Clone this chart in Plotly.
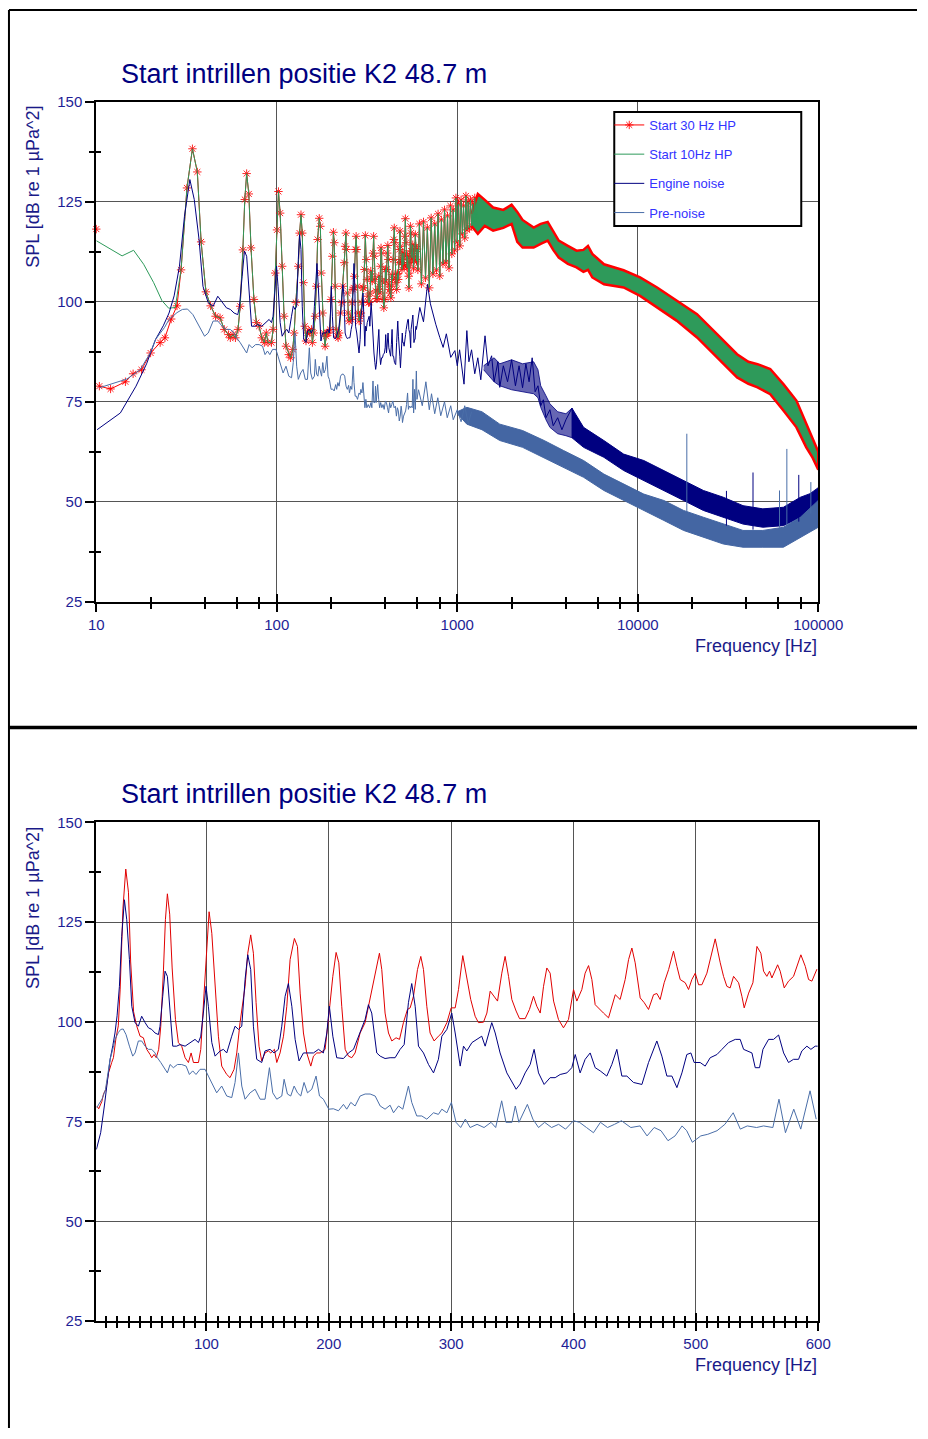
import plotly.graph_objects as go

# ---------------- DATA ----------------
# Start 30 Hz HP (shared low-frequency part, 10-600 Hz)
red_f = [10.4, 12.0, 14.5, 16.0, 17.8, 20.0, 22.6, 24.0, 26.0, 28.0, 29.5, 31.8, 34.1, 36.3, 38.1, 40.5, 43.0,
         45.8, 48.5, 51.2, 54.0, 55.3, 57.2, 59.0, 61.0, 62.7, 64.9, 66.5, 68.1, 70.0, 72.0, 74.7, 77.1, 79.8, 82.6,
         85.3, 87.5, 89.4, 93.5, 95.4, 98.1, 100.3, 102.2, 104.4, 107.1, 109.8, 112.5, 116.6, 119.3, 122.6, 124.8,
         127.5, 131.6, 133.8, 136.2, 138.4, 140.6, 143.0, 145.2, 147.9, 150.7, 152.6, 155.6, 157.5, 160.2, 163.0,
         165.7, 168.4, 171.9, 174.4, 176.6, 179.3, 182.0, 185.3, 187.5, 190.2, 193.0, 197.0, 199.7, 203.3, 206.0,
         208.2, 210.6, 213.4, 216.1, 218.8, 221.5, 225.6, 229.7, 232.4, 236.5, 239.2, 241.4, 243.3, 246.0, 248.8,
         251.5, 255.0, 257.8, 261.0, 264.3, 266.5, 269.2, 272.5, 275.2, 277.4, 280.1, 282.8, 286.1, 289.6, 292.4,
         296.5, 300.0, 303.3, 306.0, 309.5, 312.8, 316.0, 319.6, 322.3, 326.4, 329.2, 331.9, 335.1, 337.9, 341.4,
         344.1, 346.9, 349.6, 353.1, 355.9, 360.5, 364.0, 367.3, 370.0, 372.8, 375.5, 378.2, 380.9, 383.7, 387.7,
         391.8, 395.9, 400.0, 402.7, 406.8, 409.5, 412.3, 415.0, 417.7, 421.3, 424.5, 428.6, 431.3, 434.1, 438.1,
         442.2, 445.0, 447.7, 450.4, 454.5, 457.8, 461.3, 465.4, 468.1, 470.8, 474.1, 477.7, 481.7, 484.5, 487.2,
         491.3, 494.0, 496.7, 499.5, 502.2, 504.9, 509.0, 512.3, 515.8, 519.9, 522.6, 525.3, 528.0, 530.8, 534.9,
         537.6, 539.5, 543.1, 546.6, 549.9, 553.1, 555.3, 558.0, 560.2, 562.1, 566.8, 568.9, 572.2, 575.7, 579.8,
         585.8, 589.4, 592.1, 594.8, 598.9]
red_v = [78.9, 78.2, 80.0, 82.0, 83.0, 87.2, 89.8, 91.0, 95.7, 99.0, 108.0, 128.5, 138.3, 132.5, 115.0, 102.5, 99.0,
         96.4, 96.0, 93.1, 91.8, 91.0, 91.8, 91.0, 93.1, 98.9, 113.0, 125.6, 132.1, 127.0, 113.5, 100.6, 94.8, 93.9, 91.0,
         89.8, 92.2, 89.8, 89.8, 93.1, 107.2, 118.0, 127.6, 122.2, 108.9, 96.4, 88.9, 86.8, 86.0, 88.1, 92.2,
         99.8, 108.9, 117.2, 121.8, 117.2, 104.8, 93.9, 90.2, 92.2, 92.7, 92.2, 93.1, 89.8, 92.2, 96.4,
         103.9, 115.6, 120.9, 118.9, 107.2, 97.2, 92.2, 88.9, 91.4, 92.2, 92.2, 93.1, 100.6, 111.4, 117.4,
         114.8, 103.9, 93.1, 91.4, 91.0, 92.2, 97.2, 99.8, 103.9, 109.8, 113.9, 117.2, 113.1, 102.2, 97.2,
         95.2, 96.0, 95.6, 99.8, 103.1, 103.5, 106.4, 113.1, 116.4, 113.1, 103.9, 97.2, 95.2, 96.4, 97.2,
         99.8, 103.5, 103.5, 108.1, 116.6, 110.6, 105.6, 101.4, 99.8, 99.9, 102.2, 107.7, 106.4, 105.2, 112.2,
         116.4, 111.4, 105.6, 102.7, 100.8, 100.8, 103.1, 106.4, 103.9, 102.2, 108.9, 113.5, 112.2, 105.2, 100.6,
         98.5, 100.6, 108.1, 105.2, 108.1, 112.2, 114.1, 110.6, 104.3, 103.1, 102.2, 101.0, 103.9, 106.8, 105.6,
         110.6, 115.6, 118.5, 114.8, 106.0, 104.8, 103.1, 106.8, 107.1, 105.6, 109.8, 113.1, 117.7, 113.9, 110.6,
         109.8, 108.1, 110.6, 112.2, 109.3, 109.3, 112.2, 116.4, 120.8, 114.8, 111.4, 108.9, 108.5, 111.4, 109.8,
         106.4, 103.5, 107.2, 109.8, 118.9, 117.2, 112.7, 111.4, 112.7, 111.0, 114.3, 112.7, 108.5, 110.2, 111.4,
         116.8, 113.9, 110.6, 110.2, 113.2]
# first bin of the 30 Hz HP curve (only a marker is visible, on the y axis)
red_edge_f = [10.0]
red_edge_v = [118.2]

# Start 30 Hz HP, harmonic spikes above 600 Hz (top chart only)
red_hi_f = [605, 617, 633, 650, 667, 683, 700, 717, 733, 750, 767, 783, 800, 817, 833, 850, 867, 883, 900, 917, 933,
            950, 967, 983, 1000, 1017, 1033, 1050, 1067, 1083, 1100, 1117, 1133, 1150, 1167, 1183, 1200, 1217, 1233,
            1250, 1267, 1283, 1300]
red_hi_v = [108.0, 119.5, 104.5, 120.0, 106.0, 118.5, 103.5, 121.0, 107.0, 119.5, 108.0, 122.0, 106.5, 120.5, 109.5,
            123.0, 110.0, 121.5, 108.5, 124.0, 112.0, 123.0, 113.0, 126.0, 115.0, 124.5, 114.0, 125.5, 117.0, 124.0,
            116.0, 126.5, 118.0, 125.0, 118.5, 125.5, 119.0, 124.5, 119.5, 126.0, 120.0, 124.5, 120.5]

# Start 10Hz HP below 28 Hz (above that it coincides with the 30 Hz HP curve)
green_low_f = [10.0, 13.9, 16.1, 18.3, 20.8, 23.1, 25.2, 27.4]
green_low_v = [115.3, 111.5, 112.9, 109.4, 104.8, 100.3, 98.4, 98.6]

# Dense high-frequency band of both "Start" curves (upper / lower envelope)
band_f = [1200, 1300, 1420, 1580, 1800, 2000, 2150, 2300, 2650, 2900, 3170, 3400, 3650, 4100, 4580, 5000, 5300,
          5600, 6500, 8350, 10300, 12800, 16400, 21300, 27500, 35500, 41000, 46100, 54200, 64100, 75700, 85800,
          93000, 100000]
start_up = [122.0, 127.0, 125.5, 123.6, 123.0, 124.3, 122.5, 120.5, 118.6, 119.5, 120.0, 117.5, 115.3, 114.0, 112.8,
            113.0, 114.0, 112.0, 109.4, 107.9, 106.1, 103.6, 100.3, 96.9, 91.9, 86.9, 85.0, 84.4, 83.2, 79.4, 75.3,
            69.4, 66.0, 62.5]
start_lo = [119.0, 117.0, 119.0, 117.8, 118.5, 119.5, 115.0, 113.6, 113.6, 114.5, 115.3, 113.0, 111.1, 109.5, 108.6,
            107.5, 108.0, 106.1, 104.4, 103.6, 101.5, 98.6, 95.3, 91.1, 86.1, 81.1, 79.5, 78.6, 76.9, 72.8, 68.6,
            63.6, 61.0, 58.0]

# Engine noise
navy_f = [10.1, 13.6, 16.6, 19.0, 21.3, 23.5, 25.3, 27.0, 28.9, 30.8, 33.0, 34.9, 37.1, 39.0, 41.7, 44.4, 47.1, 49.9,
          52.6, 55.3, 58.0, 60.8, 62.1, 64.3, 66.2, 68.1, 70.3, 72.5, 75.7, 78.5, 82.6, 86.6, 90.7, 93.5, 95.4, 97.5,
          99.7, 101.6, 104.4, 107.1, 111.2, 113.9, 116.6, 120.7, 123.4, 126.2, 128.9, 131.6, 133.8, 136.2, 138.4,
          141.1, 145.2, 147.9, 152.0, 155.3, 158.8, 161.6, 164.3, 167.0, 169.8, 172.5, 175.7, 179.3, 182.0, 184.7,
          187.5, 191.6, 195.6, 198.4, 200.5, 203.3, 206.5, 212.0, 216.1, 220.2, 225.6, 229.7, 232.4, 235.1, 239.2,
          242.0, 246.0, 250.1, 254.2, 258.3, 261.6, 265.1, 267.8, 270.6, 273.3, 277.4, 281.5, 285.6, 289.6, 292.4,
          296.5, 300.5, 303.3, 307.4, 310.1, 312.8, 317.0, 321.0, 325.0, 327.8, 330.5, 333.2, 336.0, 340.0, 345.5,
          349.6, 353.1, 356.4, 360.5, 364.6, 367.8, 371.4, 376.0, 380.9, 385.0, 389.1, 394.6, 398.6, 401.4, 405.4,
          409.5, 413.6, 417.7, 421.8, 427.2, 431.3, 435.4, 439.5, 443.6, 449.0, 455.9, 461.3, 468.1, 472.2, 476.3,
          480.4, 484.5, 488.6, 492.6, 495.9, 498.6, 503.5, 507.6, 511.7, 517.2, 521.3, 526.7, 532.2, 536.2, 539.0,
          545.8, 548.5, 552.0, 554.8, 559.4, 563.5, 567.6, 571.7, 575.7, 579.8, 583.9, 586.6, 590.7, 594.0, 597.5,
          599.5]
navy_v = [68.0, 72.2, 78.9, 84.5, 90.6, 94.0, 97.2, 101.5, 108.9, 121.4, 130.6, 125.6, 115.6, 103.9, 99.8, 98.9, 101.4,
          99.8, 98.5, 98.1, 97.2, 96.8, 98.9, 106.4, 112.7, 111.4, 102.2, 93.9, 93.9, 94.3, 93.9, 94.8, 95.6, 94.8, 96.4,
          102.2, 108.9, 103.9, 94.8, 91.4, 92.7, 93.1, 92.2, 96.4, 98.9, 98.1, 98.9, 110.6, 116.8, 113.1, 98.9,
          90.6, 89.8, 92.7, 93.1, 92.2, 93.1, 98.9, 106.4, 109.6, 103.9, 95.6, 90.2, 92.2, 92.2, 92.2,
          92.2, 93.1, 92.2, 97.2, 103.9, 96.4, 91.0, 90.8, 92.2, 93.1, 97.2, 100.6, 104.3, 102.2, 92.2,
          91.4, 90.8, 91.0, 91.0, 93.1, 94.3, 104.8, 109.6, 103.9, 93.9, 92.2, 89.3, 87.2, 90.6, 96.4,
          98.1, 102.2, 97.2, 88.9, 93.9, 92.7, 94.8, 95.6, 96.4, 93.9, 97.2, 99.8, 97.2, 92.2, 87.2,
          84.8, 83.1, 84.4, 87.2, 89.3, 93.1, 87.2, 84.3, 86.0, 86.0, 86.8, 87.2, 88.5, 91.8, 87.2,
          90.6, 92.2, 88.5, 87.7, 86.4, 89.3, 93.1, 86.4, 86.4, 84.8, 84.3, 89.8, 95.2, 91.4, 86.4,
          86.4, 83.5, 87.2, 91.8, 92.2, 89.8, 89.8, 88.9, 91.0, 91.8, 93.1, 94.8, 95.6, 95.6, 93.1,
          92.2, 88.5, 88.5, 93.1, 95.6, 95.6, 96.7, 92.2, 89.8, 90.6, 90.6, 92.7, 93.9, 93.1, 93.9,
          93.9]
navy_hi_f = [620, 650, 684, 710, 740, 760, 800, 835, 870, 920, 970, 1000, 1030, 1060, 1090, 1130, 1160, 1200, 1250,
             1300, 1350, 1425, 1480, 1550, 1600, 1680, 1720, 1800, 1900, 2000, 2100, 2200, 2300, 2400, 2500, 2600,
             2700, 2800, 2900, 3000, 3100, 3260, 3400, 3600, 3800, 4000, 4320, 4500]
navy_hi_v = [98.6, 95.0, 104.4, 99.5, 96.0, 94.4, 91.1, 88.6, 92.0, 86.1, 87.8, 84.0, 88.0, 83.6, 79.4, 92.8, 85.0,
             88.0, 82.0, 86.0, 80.5, 91.5, 84.0, 86.5, 80.0, 85.0, 78.6, 84.0, 80.0, 85.5, 79.0, 84.0, 78.5, 84.5,
             80.0, 86.0, 77.5, 79.0, 74.0, 75.5, 71.0, 73.0, 69.0, 71.0, 68.0, 70.5, 73.4, 68.0]
navy_band_f = [1400, 1600, 1720, 2000, 2300, 2650, 2800, 2900, 3100, 3260, 3600, 4000, 4320, 5010, 6490, 8350, 10800,
               13950, 17950, 23100, 29800, 38300, 49300, 64100, 79600, 90000, 100000]
navy_up = [84.0, 86.0, 84.5, 85.5, 84.5, 85.0, 83.0, 79.0, 76.5, 74.5, 72.5, 72.0, 73.4, 68.6, 65.3, 61.9, 60.3, 57.8,
           55.3, 52.8, 51.1, 49.0, 48.2, 48.6, 51.1, 52.0, 53.5]
navy_lo = [83.0, 80.0, 79.0, 78.0, 77.5, 77.0, 76.0, 73.6, 70.5, 68.6, 67.0, 66.5, 66.0, 63.6, 61.1, 57.8, 55.3, 52.8,
           50.3, 47.8, 46.1, 44.4, 43.6, 44.0, 46.1, 47.0, 47.0]
NAVY_SPARSE_END = 4320  # below this frequency the engine-noise band is visibly less dense

# Pre-noise
pre_f = [10.4, 14.8, 17.5, 19.9, 21.3, 23.9, 25.3, 28.0, 30.0, 32.0, 34.3, 37.1, 39.8, 41.7, 44.4, 47.1, 49.9, 52.6,
         55.3, 58.0, 59.9, 62.7, 65.4, 68.1, 70.3, 73.0, 76.3, 79.8, 83.4, 86.1, 88.8, 91.5, 94.8, 98.9, 101.6, 105.7,
         108.4, 112.5, 116.6, 120.7, 123.4, 126.2, 128.9, 131.6, 135.7, 139.8, 143.9, 147.9, 151.5, 154.2, 157.5,
         161.6, 163.5, 166.2, 168.9, 171.7, 174.4, 177.1, 179.8, 182.6, 186.1, 189.6, 192.4, 195.6, 200.0, 203.8,
         207.9, 212.0, 214.7, 218.0, 221.5, 225.6, 229.7, 233.8, 237.9, 242.0, 246.0, 250.1, 252.9, 257.0, 260.5,
         265.1, 267.8, 271.9, 276.0, 280.1, 285.6, 289.6, 292.4, 296.5, 300.2, 304.0, 307.8, 311.6, 315.5, 321.2,
         326.9, 332.6, 336.4, 341.3, 344.8, 349.7, 352.4, 355.4, 362.3, 366.8, 371.4, 376.4, 382.1, 387.8, 393.5,
         400.0, 404.9, 410.6, 416.3, 422.0, 427.8, 433.5, 439.2, 446.8, 454.4, 460.1, 465.9, 471.5, 477.2, 483.0,
         488.7, 492.5, 497.1, 504.0, 509.7, 517.3, 523.7, 530.5, 536.3, 542.0, 549.6, 555.3, 562.9, 567.9, 573.2,
         580.0, 585.7, 593.3, 598.3]
pre_v = [78.5, 80.7, 83.0, 87.2, 90.6, 93.6, 95.6, 97.3, 98.1, 98.2, 96.8, 93.9, 91.4, 92.2, 95.2, 95.2, 93.9, 93.1,
         93.1, 92.2, 91.0, 89.8, 88.5, 87.2, 89.3, 88.5, 89.3, 89.3, 88.9, 86.8, 87.7, 86.8, 88.1, 88.1, 86.4, 83.9,
         82.2, 83.9, 81.4, 81.0, 84.8, 92.2, 83.9, 80.6, 82.2, 83.1, 80.6, 80.6, 88.5, 82.2, 80.6,
         81.4, 85.6, 81.9, 81.4, 83.9, 82.2, 81.4, 84.8, 82.2, 83.1, 86.4, 81.4, 80.6, 78.1, 78.2,
         77.7, 79.3, 78.1, 79.8, 78.9, 81.4, 81.9, 81.9, 81.4, 78.9, 78.1, 79.1, 77.2, 78.9, 78.1,
         83.9, 79.8, 76.4, 76.4, 75.6, 77.2, 76.8, 78.1, 77.2, 79.8, 74.8, 73.5, 75.6, 73.5, 74.3,
         73.5, 74.8, 73.5, 80.2, 74.8, 74.8, 78.9, 74.8, 79.3, 75.6, 73.5, 74.8, 73.5, 74.3, 73.1,
         75.2, 74.8, 73.5, 72.2, 74.8, 73.5, 74.3, 75.2, 73.5, 73.9, 71.4, 73.5, 72.7, 70.2, 71.4,
         73.9, 72.7, 69.8, 71.4, 71.8, 72.7, 74.3, 77.2, 73.1, 73.9, 73.5, 73.9, 73.5, 80.6, 72.2,
         78.1, 73.1, 82.7, 75.6]
pre_hi_f = [610, 640, 670, 700, 720, 750, 780, 810, 850, 880, 920, 950, 1000, 1050, 1100, 1150, 1200]
pre_hi_v = [78.0, 74.0, 80.0, 73.0, 77.0, 72.0, 76.0, 71.5, 75.0, 71.0, 74.0, 70.5, 73.0, 70.0, 74.0, 69.5, 72.5]
pre_band_f = [1000, 1130, 1370, 1720, 2300, 3030, 3880, 5010, 6490, 8350, 10800, 13950, 17950, 23100, 29800, 38300,
              49300, 64100, 79600, 100000]
pre_up = [72.5, 73.6, 72.5, 69.4, 67.8, 65.3, 62.8, 60.3, 56.9, 54.4, 51.9, 50.3, 47.8, 46.1, 44.4, 42.8, 42.8, 43.6,
          46.1, 50.3]
pre_lo = [72.0, 69.4, 68.0, 65.3, 63.6, 61.1, 58.6, 56.1, 52.8, 50.3, 47.8, 45.3, 42.8, 41.1, 39.4, 38.6, 38.6, 38.6,
          41.1, 43.6]

# Isolated narrow spikes at high frequency
spike_f = [18700, 31000, 43500, 61000, 67000, 78000, 91000]
spike_top = [67.0, 52.7, 57.3, 52.8, 63.2, 56.7, 54.9]
spike_base = [47.5, 44.0, 43.0, 43.5, 43.5, 45.0, 47.0]
spike_is_pre = [True, False, False, True, True, False, True]

# Axis ticks
top_xticks = [10, 100, 1000, 10000, 100000]
top_xminor = [20, 40, 60, 80, 200, 400, 600, 800, 2000, 4000, 6000, 8000, 20000, 40000, 60000, 80000]
y_ticks = [25, 50, 75, 100, 125, 150]
y_minor = [37.5, 62.5, 87.5, 112.5, 137.5]
bot_xticks = [100, 200, 300, 400, 500, 600]
bot_xminor = [round(k * 100 / 11, 3) for k in range(2, 66) if k % 11 != 0]

TITLE = "Start intrillen positie K2 48.7 m"
YTITLE = "SPL [dB re 1 µPa^2]"
XTITLE = "Frequency [Hz]"

# ---------------- STYLE / PAGE GEOMETRY ----------------
FONT = "Liberation Sans, Arial, sans-serif"
RED = "#ff0000"
GREEN = "#2e9a5a"
NAVY = "#000080"
PRE = "#4a6ea8"
TICKC = "#1e1e96"
# The captured page shows a slightly larger area than 928x1439 and the body keeps an 8 px
# margin; positions below are given in target-image pixels and converted to paper units.
SX, SY = 0.965, 0.989
OFF = 8
W, H = 942, 1436


def px(xr):
    return (xr / SX - OFF) / W


def py(yr):
    return 1 - (yr / SY - OFF) / H


def band_xy(fs, up, lo):
    return list(fs) + list(fs)[::-1], list(up) + list(lo)[::-1]


fig = go.Figure()

mk = dict(symbol="asterisk-open", size=7, color="rgba(255,0,0,0.85)", line=dict(width=1, color="rgba(255,0,0,0.85)"))

# ---- top chart (log) ----
fig.add_trace(go.Scatter(x=red_f + red_hi_f, y=red_v + red_hi_v, mode="lines+markers", name="Start 30 Hz HP",
                         legendgroup="a", line=dict(color=RED, width=1), cliponaxis=False, marker=mk,
                         xaxis="x", yaxis="y"))
fig.add_trace(go.Scatter(x=red_edge_f, y=red_edge_v, mode="markers", legendgroup="a", showlegend=False,
                         cliponaxis=False, hoverinfo="skip", marker=mk, xaxis="x", yaxis="y"))
bx, by = band_xy(band_f, start_up, start_lo)
fig.add_trace(go.Scatter(x=bx, y=by, mode="lines", fill="toself", fillcolor=GREEN, line=dict(color=RED, width=2.5),
                         showlegend=False, hoverinfo="skip", xaxis="x", yaxis="y"))
green_f = green_low_f + [f for f in red_f if f > 28] + red_hi_f
green_v = green_low_v + [v for f, v in zip(red_f, red_v) if f > 28] + red_hi_v
fig.add_trace(go.Scatter(x=green_f, y=green_v, mode="lines", name="Start 10Hz HP", legendgroup="b",
                         line=dict(color=GREEN, width=1), xaxis="x", yaxis="y"))
# engine-noise band: sparse (semi-filled) part and dense part
sp = [i for i, f in enumerate(navy_band_f) if f <= NAVY_SPARSE_END]
dn = [i for i, f in enumerate(navy_band_f) if f >= NAVY_SPARSE_END]
bx, by = band_xy([navy_band_f[i] for i in sp], [navy_up[i] for i in sp], [navy_lo[i] for i in sp])
fig.add_trace(go.Scatter(x=bx, y=by, mode="lines", fill="toself", fillcolor="rgba(0,0,128,0.6)",
                         line=dict(color="rgba(0,0,128,0.8)", width=1), showlegend=False, hoverinfo="skip",
                         xaxis="x", yaxis="y"))
bx, by = band_xy([navy_band_f[i] for i in dn], [navy_up[i] for i in dn], [navy_lo[i] for i in dn])
fig.add_trace(go.Scatter(x=bx, y=by, mode="lines", fill="toself", fillcolor=NAVY, line=dict(color=NAVY, width=1),
                         showlegend=False, hoverinfo="skip", xaxis="x", yaxis="y"))
fig.add_trace(go.Scatter(x=navy_f + navy_hi_f, y=navy_v + navy_hi_v, mode="lines", name="Engine noise",
                         legendgroup="c", line=dict(color=NAVY, width=1), xaxis="x", yaxis="y"))
bx, by = band_xy(pre_band_f, pre_up, pre_lo)
fig.add_trace(go.Scatter(x=bx, y=by, mode="lines", fill="toself", fillcolor="#4466a3",
                         line=dict(color="#4466a3", width=1), showlegend=False, hoverinfo="skip",
                         xaxis="x", yaxis="y"))
fig.add_trace(go.Scatter(x=pre_f + pre_hi_f, y=pre_v + pre_hi_v, mode="lines", name="Pre-noise",
                         legendgroup="d", line=dict(color=PRE, width=1), xaxis="x", yaxis="y"))
for is_pre in (False, True):
    sx, sy = [], []
    for f, t, b, p in zip(spike_f, spike_top, spike_base, spike_is_pre):
        if p == is_pre:
            sx += [f, f, None]
            sy += [b, t, None]
    fig.add_trace(go.Scatter(x=sx, y=sy, mode="lines", line=dict(color=PRE if is_pre else NAVY, width=1),
                             showlegend=False, hoverinfo="skip", xaxis="x", yaxis="y"))

# ---- bottom chart (linear) ----
fig.add_trace(go.Scatter(x=red_f, y=red_v, mode="lines", line=dict(color="#e00000", width=1),
                         showlegend=False, xaxis="x2", yaxis="y2"))
fig.add_trace(go.Scatter(x=navy_f, y=navy_v, mode="lines", line=dict(color=NAVY, width=1), showlegend=False,
                         xaxis="x2", yaxis="y2"))
fig.add_trace(go.Scatter(x=pre_f, y=pre_v, mode="lines", line=dict(color=PRE, width=1), showlegend=False,
                         xaxis="x2", yaxis="y2"))

# helper traces so that the overlay (inside-tick) axes get drawn
for xa, ya in (("x3", "y"), ("x", "y3"), ("x4", "y2"), ("x2", "y4")):
    fig.add_trace(go.Scatter(x=[None], y=[None], mode="lines", showlegend=False, hoverinfo="skip",
                             xaxis=xa, yaxis=ya))

tickfont = dict(family=FONT, size=15, color=TICKC)
xdom = [px(96), px(818)]
common_axis = dict(showline=True, linecolor="black", linewidth=2, mirror=True, zeroline=False,
                   showgrid=True, gridcolor="#555555", gridwidth=1, tickcolor="black", tickwidth=1.5,
                   tickfont=tickfont)
overlay_axis = dict(showline=False, showgrid=False, zeroline=False, showticklabels=False,
                    tickcolor="black", tickwidth=1.5, ticks="inside")
minor_out = dict(ticks="outside", ticklen=5, tickcolor="black", tickwidth=1.5, showgrid=False)
minor_in = dict(ticks="inside", ticklen=5, tickcolor="black", tickwidth=1.5)

fig.update_layout(
    width=W, height=H, autosize=False, margin=dict(l=0, r=0, t=0, b=0),
    paper_bgcolor="white", plot_bgcolor="white",
    font=dict(family=FONT),
    xaxis=dict(domain=xdom, anchor="y", type="log", range=[1, 5], tickvals=top_xticks,
               ticktext=[str(t) for t in top_xticks], ticks="outside", ticklen=8,
               minor=dict(tickvals=top_xminor, **minor_out), **common_axis),
    yaxis=dict(domain=[py(601), py(101)], anchor="x", range=[25, 150], tickvals=y_ticks, ticks="outside",
               ticklen=9, minor=dict(tickvals=y_minor, **minor_out), **common_axis),
    xaxis3=dict(overlaying="x", anchor="y", side="bottom", type="log", range=[1, 5], tickvals=top_xticks,
                ticklen=8, minor=dict(tickvals=top_xminor, **minor_in), **overlay_axis),
    yaxis3=dict(overlaying="y", anchor="x", side="left", range=[25, 150], tickvals=y_minor, ticklen=5,
                **overlay_axis),
    xaxis2=dict(domain=xdom, anchor="y2", range=[10, 600], tickvals=bot_xticks, ticks="outside", ticklen=8,
                minor=dict(tickvals=bot_xminor, **minor_out), **common_axis),
    yaxis2=dict(domain=[py(1321), py(822)], anchor="x2", range=[25, 150], tickvals=y_ticks, ticks="outside",
                ticklen=9, minor=dict(tickvals=y_minor, **minor_out), **common_axis),
    xaxis4=dict(overlaying="x2", anchor="y2", side="bottom", range=[10, 600], tickvals=bot_xticks, ticklen=8,
                minor=dict(tickvals=bot_xminor, **minor_in), **overlay_axis),
    yaxis4=dict(overlaying="y2", anchor="x2", side="left", range=[25, 150], tickvals=y_minor, ticklen=5,
                **overlay_axis),
    legend=dict(x=px(609), y=py(109), xanchor="left", yanchor="top", bgcolor="rgba(0,0,0,0)", borderwidth=0,
                font=dict(family=FONT, size=13, color="#3333ff"), traceorder="grouped", tracegroupgap=9.3,
                itemwidth=30),
    showlegend=True,
)

annos = []
for ty in (73, 794):
    annos.append(dict(text=TITLE, x=px(119), y=py(ty), xref="paper", yref="paper", xanchor="left",
                      yanchor="middle", showarrow=False, font=dict(family=FONT, size=27, color=NAVY)))
for ty in (185.5, 907.5):
    annos.append(dict(text=YTITLE, x=px(33), y=py(ty), xref="paper", yref="paper", xanchor="center",
                      yanchor="middle", textangle=-90, showarrow=False,
                      font=dict(family=FONT, size=18, color="#1a1a88")))
for ty in (645, 1365):
    annos.append(dict(text=XTITLE, x=px(819), y=py(ty), xref="paper", yref="paper", xanchor="right",
                      yanchor="middle", showarrow=False, font=dict(family=FONT, size=18, color="#1a1a88")))
fig.update_layout(annotations=annos)

shapes = [
    dict(type="line", xref="paper", yref="paper", x0=1 / W, x1=1 / W, y0=0, y1=1 - 1 / H,
         line=dict(color="black", width=2)),
    dict(type="line", xref="paper", yref="paper", x0=1 / W, x1=1, y0=1 - 1 / H, y1=1 - 1 / H,
         line=dict(color="black", width=2)),
    dict(type="line", xref="paper", yref="paper", x0=1 / W, x1=1, y0=py(727), y1=py(727),
         line=dict(color="black", width=3.5)),
    dict(type="rect", xref="paper", yref="paper", x0=px(614), x1=px(801), y0=py(225), y1=py(111),
         line=dict(color="black", width=2), fillcolor="white", layer="above"),
]
fig.update_layout(shapes=shapes)

fig.write_html("out.html")
